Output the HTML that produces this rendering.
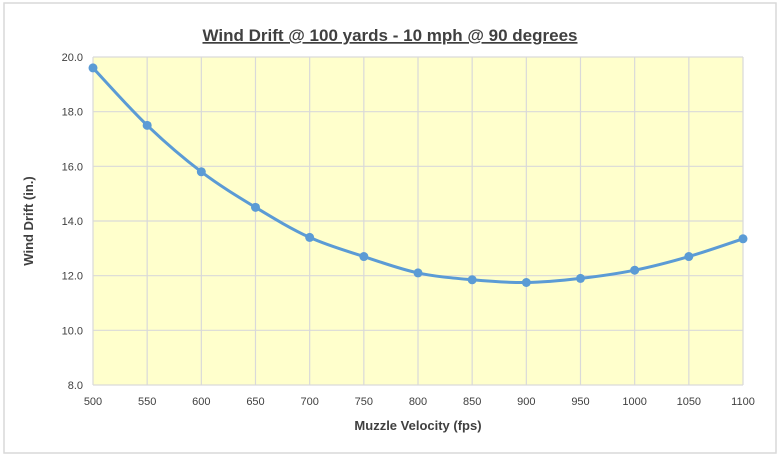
<!DOCTYPE html>
<html><head><meta charset="utf-8"><style>
html,body{margin:0;padding:0;background:#fff;}
svg{display:block;font-family:"Liberation Sans",sans-serif;}
</style></head><body>
<svg id="s" width="780" height="459" viewBox="0 0 780 459">
<rect x="0" y="0" width="780" height="459" fill="#fff"/>
<rect x="4" y="3" width="772" height="450" fill="#fff" stroke="#d9d9d9" stroke-width="1.5"/>
<text x="390" y="41" text-anchor="middle" font-size="17" font-weight="bold" fill="#404040" text-decoration="underline">Wind Drift @ 100 yards - 10 mph @ 90 degrees</text>
<rect x="93" y="57" width="650" height="328" fill="#ffffcc"/>
<g id="grid" stroke="#d9d9d9" stroke-width="1.2"></g>
<g id="lab" font-size="11" fill="#404040"></g>
<text x="0" y="0" transform="translate(33,221) rotate(-90)" text-anchor="middle" font-size="13" font-weight="bold" fill="#404040">Wind Drift (in.)</text>
<text x="418" y="430" text-anchor="middle" font-size="13" font-weight="bold" fill="#404040">Muzzle Velocity (fps)</text>
<path id="ln" fill="none" stroke="#5b9bd5" stroke-width="3"/>
<g id="pts" fill="#5b9bd5"></g>
</svg>
<script>
var ns="http://www.w3.org/2000/svg",g=document.getElementById('grid'),lab=document.getElementById('lab');
function el(p,t,a){var e=document.createElementNS(ns,t);for(var k in a)e.setAttribute(k,a[k]);p.appendChild(e);return e;}
var X0=93,X1=743,Y0=57,Y1=385,dx=(X1-X0)/12,dy=(Y1-Y0)/12;
for(var i=0;i<=12;i++){var x=X0+dx*i;el(g,'line',{x1:x,y1:Y0,x2:x,y2:Y1});
 var t=el(lab,'text',{x:x,y:405,'text-anchor':'middle'});t.textContent=500+50*i;}
for(var j=0;j<=6;j++){var y=Y0+j*(Y1-Y0)/6;el(g,'line',{x1:X0,y1:y,x2:X1,y2:y});
 var t=el(lab,'text',{x:83,y:y+4,'text-anchor':'end'});t.textContent=(20-2*j).toFixed(1);}
var v=[19.6,17.5,15.8,14.5,13.4,12.7,12.1,11.85,11.75,11.9,12.2,12.7,13.35];
var P=v.map(function(a,i){return [X0+dx*i,Y0+(20-a)*(Y1-Y0)/12];});
var d="M"+P[0][0]+","+P[0][1];
for(var i=0;i<P.length-1;i++){var p0=P[Math.max(i-1,0)],p1=P[i],p2=P[i+1],p3=P[Math.min(i+2,P.length-1)];
 d+=" C"+(p1[0]+(p2[0]-p0[0])/6)+","+(p1[1]+(p2[1]-p0[1])/6)+" "+(p2[0]-(p3[0]-p1[0])/6)+","+(p2[1]-(p3[1]-p1[1])/6)+" "+p2[0]+","+p2[1];}
document.getElementById('ln').setAttribute('d',d);
var pts=document.getElementById('pts');P.forEach(function(p){el(pts,'circle',{cx:p[0],cy:p[1],r:4.5});});
</script>
</body></html>
